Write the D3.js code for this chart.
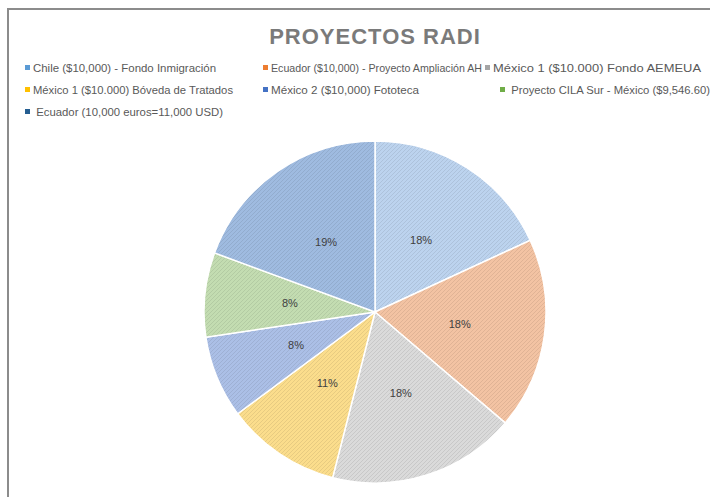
<!DOCTYPE html>
<html>
<head>
<meta charset="utf-8">
<script src="https://cdn.jsdelivr.net/npm/d3@7"></script>
<style>
  body { margin: 0; background: #fff; }
  svg { display: block; font-family: "Liberation Sans", "DejaVu Sans", sans-serif; }
</style>
</head>
<body>
<div id="chart"></div>
<script>
// data
const projects = [
  "Chile ($10,000) - Fondo Inmigración",
  "Ecuador ($10,000) - Proyecto Ampliación AH",
  "México 1 ($10.000) Fondo AEMEUA",
  "México 1 ($10.000) Bóveda de Tratados",
  "México 2 ($10,000) Fototeca",
  " Proyecto CILA Sur - México ($9,546.60)",
  " Ecuador (10,000 euros=11,000 USD)",
];
const amounts = [10000, 10000, 9800, 6000, 4300, 4400, 10700];
const legendColors = ["#5b9bd5", "#ed7d31", "#a5a5a5", "#ffc000", "#4472c4", "#70ad47", "#255e91"];
const fillColors = ["#bcd3ee", "#f3c3a3", "#dadada", "#fbdd8c", "#abbfe6", "#c3dcb1", "#9fbbe0"];
const title = "PROYECTOS RADI";

const W = 710, H = 497;
const svg = d3.select("#chart").append("svg").attr("width", W).attr("height", H);

// hatched fills like the excel pattern
const defs = svg.append("defs");
fillColors.forEach((c, i) => {
  const p = defs.append("pattern")
    .attr("id", "hatch" + i)
    .attr("patternUnits", "userSpaceOnUse")
    .attr("width", 4).attr("height", 4);
  p.append("rect").attr("width", 4).attr("height", 4).attr("fill", c);
  p.append("path")
    .attr("d", "M-1,1 l2,-2 M0,4 l4,-4 M3,5 l2,-2")
    .attr("stroke", d3.color(c).darker(0.3))
    .attr("stroke-width", 0.8);
});

// chart frame
svg.append("rect")
  .attr("x", 8).attr("y", 9)
  .attr("width", W + 10).attr("height", H + 10)
  .attr("fill", "none")
  .attr("stroke", "#8c8c8c")
  .attr("stroke-width", 2);

svg.append("text")
  .attr("x", 375).attr("y", 44)
  .attr("text-anchor", "middle")
  .attr("font-size", 22)
  .attr("font-weight", "bold")
  .attr("letter-spacing", 1)
  .attr("fill", "#7a7a7a")
  .text(title);

// legend (excel flow layout)
const legendPos = [
  [27, 72, 183], [265, 72, 211], [487, 72, 208],
  [27, 94, 200], [265, 94, 148], [502, 94, 202],
  [27, 116, 190],
];
const legend = svg.append("g");
projects.forEach((name, i) => {
  const [x, y, w] = legendPos[i];
  legend.append("rect")
    .attr("x", x - 2).attr("y", y - 7)
    .attr("width", 5).attr("height", 5)
    .attr("fill", legendColors[i]);
  legend.append("text")
    .attr("x", x + 6).attr("y", y)
    .attr("font-size", 10.5)
    .attr("fill", "#595959")
    .attr("textLength", w)
    .attr("lengthAdjust", "spacingAndGlyphs")
    .attr("xml:space", "preserve")
    .style("white-space", "pre")
    .text(name);
});

// pie
const cx = 375, cy = 312, R = 171;
const pie = d3.pie().sort(null).value((d) => d);
const arcs = pie(amounts);
const total = d3.sum(amounts);
const arc = d3.arc().innerRadius(0).outerRadius(R);
const g = svg.append("g").attr("transform", `translate(${cx},${cy})`);

g.selectAll("path.slice")
  .data(arcs)
  .join("path")
  .attr("class", "slice")
  .attr("d", arc)
  .attr("fill", (d, i) => `url(#hatch${i})`)
  .attr("stroke", "#fff")
  .attr("stroke-width", 1.5);

g.selectAll("text.lbl")
  .data(arcs)
  .join("text")
  .attr("class", "lbl")
  .attr("transform", (d) => `translate(${arc.centroid(d)})`)
  .attr("dy", "0.35em")
  .attr("text-anchor", "middle")
  .attr("font-size", 11)
  .attr("fill", "#404040")
  .text((d) => d3.format(".0%")(d.value / total));
</script>
</body>
</html>
